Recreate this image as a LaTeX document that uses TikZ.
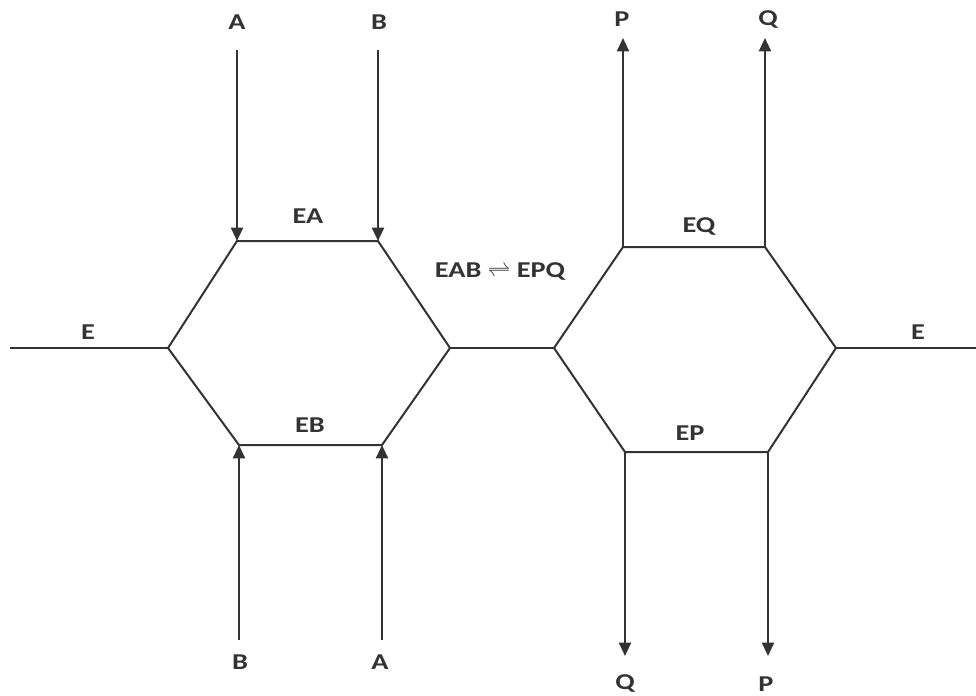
\documentclass[tikz,border=0pt]{standalone}
\usepackage{fontspec}
\setmainfont{Carlito}[FakeStretch=1.25]
\usetikzlibrary{arrows.meta}
\begin{document}
\begin{tikzpicture}[x=0.75pt,y=-0.75pt,
  ln/.style={line width=1.5pt,draw=black!80},
  arr/.style={ln,-{Triangle[length=10pt,width=9pt]}},
  lbl/.style={font=\fontsize{17}{20}\selectfont\bfseries,inner sep=0pt,text=black!80}]
\useasboundingbox (0,0) rectangle (976,696);
% left hexagon
\coordinate (L1) at (168,348);
\coordinate (L2) at (237,241);
\coordinate (L3) at (378,241);
\coordinate (L4) at (450,348);
\coordinate (L5) at (382,445);
\coordinate (L6) at (239,445);
% right hexagon
\coordinate (R1) at (554,348);
\coordinate (R2) at (623,247);
\coordinate (R3) at (765,247);
\coordinate (R4) at (836,348);
\coordinate (R5) at (768,452);
\coordinate (R6) at (625,452);
\draw[ln] (L1)--(L2)--(L3)--(L4)--(L5)--(L6)--cycle;
\draw[ln] (R1)--(R2)--(R3)--(R4)--(R5)--(R6)--cycle;
\coordinate (Eleft) at (10,348);
\coordinate (Eright) at (976,348);
\draw[ln] (Eleft)--(L1);
\draw[ln] (L4)--(R1);
\draw[ln] (R4)--(Eright);
% free ends
\coordinate (a1) at (237,50);
\coordinate (b1) at (378,50);
\coordinate (b2) at (239,640);
\coordinate (a2) at (382,640);
\coordinate (p1) at (623,38);
\coordinate (q1) at (765,38);
\coordinate (q2) at (625,656);
\coordinate (p2) at (768,656);
\draw[arr] (a1)--(L2);
\draw[arr] (b1)--(L3);
\draw[arr] (b2)--(L6);
\draw[arr] (a2)--(L5);
\draw[arr] (R2)--(p1);
\draw[arr] (R3)--(q1);
\draw[arr] (R6)--(q2);
\draw[arr] (R5)--(p2);
% labels
\node[lbl] (tA) at (237,22) {A};
\node[lbl] (tB) at (379,22) {B};
\node[lbl] (bB) at (240,662) {B};
\node[lbl] (bA) at (380,662) {A};
\node[lbl] (tP) at (622,19) {P};
\node[lbl] (tQ) at (768,19) {Q};
\node[lbl] (bQ) at (625,683) {Q};
\node[lbl] (bP) at (766,684) {P};
\node[lbl] (EA) at (308,216) {EA};
\node[lbl] (EB) at (310,425) {EB};
\node[lbl] (EQ) at (699,226) {EQ};
\node[lbl] (EP) at (690,433) {EP};
\node[lbl] (El) at (88,332) {E};
\node[lbl] (Er) at (918,332) {E};
\node[lbl] (eq) at (500,271) {EAB {\fontsize{19}{19}\selectfont$\rightleftharpoons$} EPQ};
\end{tikzpicture}
\end{document}
